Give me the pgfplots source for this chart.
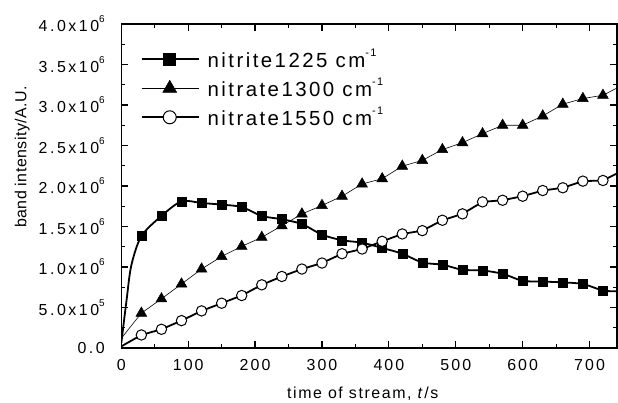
\documentclass[border=0pt]{standalone}
\usepackage{fontspec}
\setmainfont{Liberation Sans}[LetterSpace=10]
\newfontfamily\legfont{Liberation Sans}[LetterSpace=12]
\newfontfamily\tickfont{Liberation Sans}[LetterSpace=13]
\newfontfamily\ytickfont{Liberation Sans}[LetterSpace=16]
\newfontfamily\ylabfont{Liberation Sans}[LetterSpace=3]
\newcommand\ysup[1]{\raisebox{9bp}{\fontsize{10}{10}\selectfont #1}}
\newcommand\lsup[1]{\raisebox{11bp}{\fontsize{11}{11}\selectfont #1}}
\usepackage{pgfplots}
\usepackage{pgfplotstable}
\pgfplotsset{compat=1.18}

% values in units of 10^6 A.U.
\pgfplotstableread{
t v
0 0.06
8 0.60
15 1.02
30 1.38
60 1.63
90 1.81
120 1.79
150 1.77
180 1.74
210 1.63
240 1.59
270 1.53
300 1.40
330 1.33
360 1.30
390 1.235
420 1.164
450 1.056
480 1.028
510 0.966
540 0.957
570 0.916
600 0.83
630 0.82
660 0.81
690 0.79
720 0.71
741 0.70
}\nitrite

\pgfplotstableread{
t v
0 0.12
30 0.43
60 0.607
90 0.79
120 0.975
150 1.13
180 1.255
210 1.366
240 1.51
270 1.655
300 1.76
330 1.874
360 2.025
390 2.09
420 2.245
450 2.316
480 2.45
510 2.535
540 2.646
570 2.75
600 2.75
630 2.865
660 3.01
690 3.08
720 3.12
741 3.21
}\nitrateA

\pgfplotstableread{
t v
0 0.02
30 0.161
60 0.231
90 0.338
120 0.458
150 0.553
180 0.648
210 0.78
240 0.883
270 0.975
300 1.049
330 1.164
360 1.222
390 1.317
420 1.408
450 1.449
480 1.577
510 1.656
540 1.804
570 1.824
600 1.874
630 1.944
660 1.978
690 2.06
720 2.068
741 2.155
}\nitrateB

\begin{document}
\begin{tikzpicture}
\begin{axis}[
  name=ax,
  scale only axis,
  width=495.7bp, height=324bp,
  xmin=0, xmax=741, ymin=0, ymax=4,
  xtick={0,100,200,300,400,500,600,700},
  minor x tick num=1,
  ytick={0,0.5,1,1.5,2,2.5,3,3.5,4},
  minor y tick num=1,
  yticklabels={0.0,
    5.0x10\ysup{5},
    1.0x10\ysup{6},
    1.5x10\ysup{6},
    2.0x10\ysup{6},
    2.5x10\ysup{6},
    3.0x10\ysup{6},
    3.5x10\ysup{6},
    4.0x10\ysup{6}},
  /pgf/number format/assume math mode=true,
  tick align=inside,
  axis line style={line width=1.5bp},
  major tick length=7bp,
  minor tick length=4bp,
  every tick/.style={black, line width=1.2bp},
  tick label style={font=\tickfont\fontsize{16}{18}\selectfont},
  xticklabel style={yshift=-8bp},
  yticklabel style={xshift=-13bp, font=\ytickfont\fontsize{16}{18}\selectfont},
  xlabel={time of stream, \textit{t}/s},
  ylabel={band intensity/A.U.},
  every axis x label/.style={at={(axis description cs:0.487,-0.142)}, anchor=center, font=\fontsize{16}{18}\selectfont},
  every axis y label/.style={at={(axis description cs:-0.2,0.59)}, anchor=center, rotate=90, font=\ylabfont\fontsize{16}{18}\selectfont},
  legend image code/.code={\draw[mark repeat=2,mark phase=2] plot coordinates {(0bp,0bp) (28bp,0bp) (57bp,0bp)};},
  legend style={draw=none, fill=none, at={(0.033,0.935)}, anchor=north west,
    font=\legfont\fontsize{20.5}{23}\selectfont, row sep=5bp, column sep=6bp, cells={anchor=west}},
  legend cell align=left,
]
\addlegendimage{black, line width=1.8bp, mark=square*, mark size=6bp, mark options={line width=0.5bp}}
\addlegendentry{nitrite1225 cm\lsup{-1}}
\addlegendimage{black, line width=0.6bp, mark=triangle*, mark size=8bp, mark options={line width=0.5bp}}
\addlegendentry{nitrate1300 cm\lsup{-1}}
\addlegendimage{black, line width=1.8bp, mark=*, mark size=6.5bp, mark options={fill=white, line width=1bp}}
\addlegendentry{nitrate1550 cm\lsup{-1}}

\addplot[black, line width=1.8bp, smooth, no markers, forget plot] table[x=t, y=v] {\nitrite};
\addplot[black, line width=0.6bp, no markers, forget plot] table[x=t, y=v] {\nitrateA};
\addplot[black, line width=1.8bp, no markers, forget plot] table[x=t, y=v] {\nitrateB};

\addplot[only marks, mark=square*, mark size=4.5bp, black, mark options={line width=0.5bp}, restrict x to domain=20:730, forget plot] table[x=t, y=v] {\nitrite};
\addplot[only marks, mark=triangle*, mark size=6.2bp, black, mark options={line width=0.5bp}, restrict x to domain=20:730, forget plot] table[x=t, y=v] {\nitrateA};
\addplot[only marks, mark=*, mark size=5.2bp, black, mark options={fill=white, line width=1bp}, restrict x to domain=20:730, forget plot] table[x=t, y=v] {\nitrateB};
\end{axis}
\pgfresetboundingbox
\path[use as bounding box] ([xshift=-121.3bp,yshift=-55bp]ax.south west) rectangle ([xshift=1bp,yshift=24bp]ax.north east);
\end{tikzpicture}
\end{document}
